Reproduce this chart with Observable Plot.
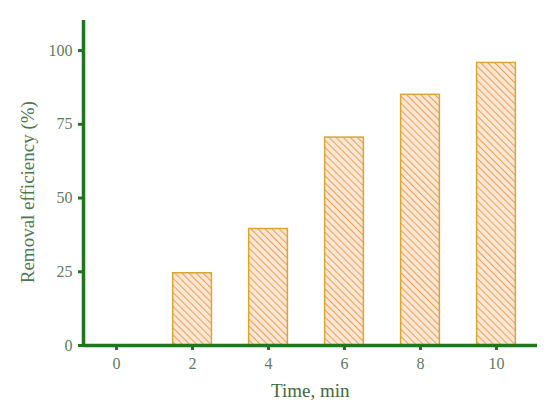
<!DOCTYPE html>
<html>
<head>
<meta charset="utf-8">
<script src="https://cdn.jsdelivr.net/npm/d3@7"></script>
<script src="https://cdn.jsdelivr.net/npm/@observablehq/plot@0.6"></script>
<style>
  body { margin: 0; background: #fff; }
  svg { font-family: "Liberation Serif", "DejaVu Serif", serif; }
  [aria-label="x-axis tick"], [aria-label="x-axis tick"] *,
  [aria-label="y-axis tick"], [aria-label="y-axis tick"] * { stroke-width: 3px !important; }
</style>
</head>
<body>
<div id="chart"></div>
<script>
const times = [0, 2, 4, 6, 8, 10];
const efficiency = [0, 24.5, 39.5, 70.5, 85, 95.8];
const yTicks = [0, 25, 50, 75, 100];
const xLabel = "Time, min";
const yLabel = "Removal efficiency (%)";

const data = times.map((t, i) => ({t, v: efficiency[i]}));
const bars = data.filter(d => d.v > 0);

const axisColor = "#1f761f";
const tickText = "#5f7a5f";
const labelColor = "#3f6a3f";
const half = 0.51;

const xDomain = [-0.87, 11.08];

const plot = Plot.plot({
  width: 550,
  height: 420,
  marginLeft: 83,
  marginRight: 13,
  marginTop: 20,
  marginBottom: 75,
  style: {fontFamily: "Liberation Serif, serif", background: "#fff"},
  x: {type: "linear", domain: xDomain},
  y: {domain: [0, 110.2]},
  marks: [
    () => {
      const svg = d3.create("svg:defs");
      const p = svg.append("pattern")
        .attr("id", "hatch")
        .attr("patternUnits", "userSpaceOnUse")
        .attr("width", 5).attr("height", 5)
        .attr("patternTransform", "rotate(-45)");
      p.append("rect").attr("width", 5).attr("height", 5).attr("fill", "#fde8d6");
      p.append("line").attr("x1", 0).attr("y1", 0).attr("x2", 0).attr("y2", 5)
        .attr("stroke", "#eea25a").attr("stroke-width", 2.2);
      return svg.node();
    },
    Plot.rect(bars, {
      x1: d => d.t - half, x2: d => d.t + half,
      y1: 0, y2: "v",
      fill: "url(#hatch)", stroke: "#d9a535", strokeWidth: 1.5
    }),
    Plot.axisX(times, {
      tickSize: 5, tickPadding: 7, stroke: axisColor, strokeWidth: 3,
      fill: tickText, fontSize: 16, label: null, tickFormat: d => String(d)
    }),
    Plot.axisY(yTicks, {
      tickSize: 5, tickPadding: 6, stroke: axisColor, strokeWidth: 3,
      fill: tickText, fontSize: 16, label: null
    }),
    Plot.ruleY([0], {stroke: axisColor, strokeWidth: 3.5}),
    Plot.ruleX([xDomain[0]], {stroke: axisColor, strokeWidth: 3.5}),
    Plot.text([xLabel], {
      frameAnchor: "bottom", dy: 51, x: 5.1, y: 0, fill: labelColor, fontSize: 19
    }),
    Plot.text([yLabel], {
      frameAnchor: "left", dx: -56, rotate: -90, textAnchor: "middle",
      fill: "#4b7a4b", fontSize: 19, y: 52
    })
  ]
});
document.getElementById("chart").appendChild(plot);
</script>
</body>
</html>
